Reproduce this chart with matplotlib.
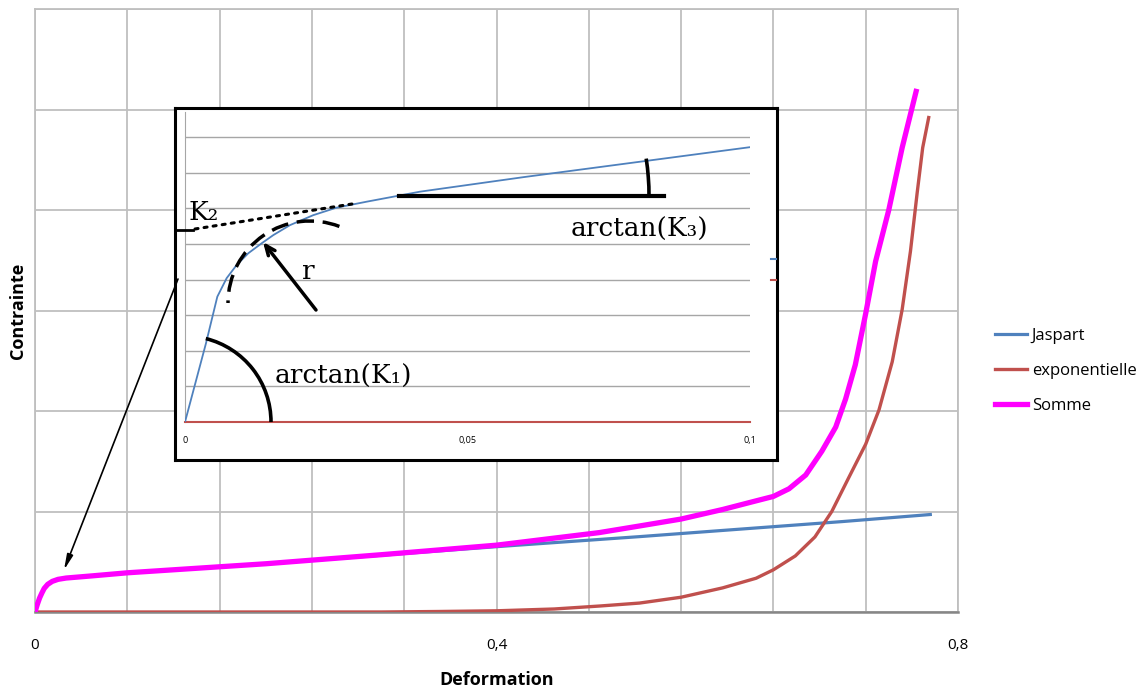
import numpy as np
import matplotlib
matplotlib.use("Agg")
import matplotlib.pyplot as plt
from matplotlib.patches import Arc

plt.rcParams["font.family"] = ["Open Sans", "DejaVu Sans"]

W, H = 1142, 691

# courbes principales (contrainte en unites de grille)
jaspart_x = [0, 0.002, 0.004, 0.006, 0.008, 0.011, 0.015, 0.02, 0.027, 0.05, 0.08, 0.2, 0.3, 0.4,
             0.524, 0.6, 0.7, 0.776]
jaspart_y = [0, 0.075, 0.14, 0.19, 0.235, 0.275, 0.305, 0.325, 0.338, 0.36, 0.39, 0.48, 0.565,
             0.65, 0.75, 0.815, 0.9, 0.97]

expo_x = [0, 0.3, 0.35, 0.4, 0.45, 0.49, 0.524, 0.56, 0.596, 0.625, 0.64, 0.659, 0.676, 0.6906,
          0.705, 0.72, 0.7315, 0.743, 0.7516, 0.7588, 0.7646, 0.7694, 0.7746]
expo_y = [0, 0, 0.005, 0.012, 0.03, 0.06, 0.089, 0.147, 0.24, 0.336, 0.42, 0.558, 0.747, 1.0,
          1.33, 1.67, 2.01, 2.49, 3.01, 3.59, 4.17, 4.62, 4.92]

somme_x = [0, 0.002, 0.004, 0.006, 0.008, 0.011, 0.015, 0.02, 0.027, 0.05, 0.08, 0.2, 0.3, 0.4,
           0.489, 0.524, 0.56, 0.596, 0.625, 0.64, 0.6535, 0.668, 0.682, 0.694, 0.7026, 0.711,
           0.72, 0.7286, 0.74, 0.7516, 0.7637]
somme_y = [0, 0.075, 0.14, 0.19, 0.235, 0.275, 0.305, 0.325, 0.338, 0.36, 0.39, 0.48, 0.57, 0.665,
           0.79, 0.856, 0.925, 1.02, 1.106, 1.15, 1.226, 1.363, 1.6, 1.84, 2.12, 2.46, 2.97, 3.49,
           4.0, 4.62, 5.18]

# encart : zoom sur 0..0,1
zoom_x = [0, 0.00372, 0.00572, 0.00737, 0.00914, 0.0112, 0.01357, 0.01563, 0.01858, 0.0227,
          0.0268, 0.0322, 0.0416, 0.06, 0.08, 0.1]
zoom_y = [0, 2.215, 3.52, 4.04, 4.41, 4.74, 5.02, 5.25, 5.53, 5.81, 6.02, 6.19, 6.47, 6.88, 7.3,
          7.72]
zoom_expo_x = [0, 0.1]
zoom_expo_y = [0, 0]

main_ticks = [0, 0.4, 0.8]
main_tick_labels = ["0", "0,4", "0,8"]
zoom_ticks = [0, 0.05, 0.1]
zoom_tick_labels = ["0", "0,05", "0,1"]

BLUE = "#4F81BD"
RED = "#C0504D"
MAGENTA = "#FF00FF"
GRID = "#BFBFBF"

fig = plt.figure(figsize=(W / 100, H / 100), dpi=100)

# --- graphique principal
ax = fig.add_axes([35 / W, 1 - 612 / H, 923 / W, 603 / H])
l1, = ax.plot(jaspart_x, jaspart_y, color=BLUE, lw=2.3, zorder=3)
l2, = ax.plot(expo_x, expo_y, color=RED, lw=2.4, zorder=3)
l3, = ax.plot(somme_x, somme_y, color=MAGENTA, lw=3.8, zorder=4)
ax.set_xlim(0, 0.8)
ax.set_ylim(0, 6)
grid_x = np.linspace(0, 0.8, 11)
ax.set_xticks(grid_x)
ax.set_xticklabels([main_tick_labels[main_ticks.index(round(v, 2))] if round(v, 2) in main_ticks else ""
                    for v in grid_x], fontsize=11)
ax.set_yticks(range(7))
ax.set_yticklabels([])
ax.tick_params(length=0)
ax.tick_params(axis="x", pad=19)
ax.grid(color=GRID, lw=1.3, zorder=0)
ax.set_axisbelow(True)
for s in ax.spines.values():
    s.set_color(GRID)
    s.set_linewidth(1.3)
ax.spines["bottom"].set_color("#868686")
ax.spines["bottom"].set_linewidth(1.8)
ax.set_xlabel("Deformation", fontweight="bold", fontsize=13, va="center")
ax.xaxis.set_label_coords(0.5, -68 / 603)
ax.set_ylabel("Contrainte", fontweight="bold", fontsize=13, va="center")
ax.yaxis.set_label_coords(-17 / 923, 0.5)

fig.legend([l1, l2, l3], ["Jaspart", "exponentielle", "Somme"], loc="upper left",
           bbox_to_anchor=(995 / W, 1 - 328 / H), frameon=False, borderpad=0,
           borderaxespad=0, handlelength=1.9, handletextpad=0.3, labelspacing=1.14,
           fontsize=12)

# --- cadre de l'encart
box = fig.add_axes([175 / W, 1 - 460 / H, 602 / W, 352 / H])
box.set_xticks([])
box.set_yticks([])
box.set_facecolor("white")
for s in box.spines.values():
    s.set_color("black")
    s.set_linewidth(2.2)

ins = fig.add_axes([185 / W, 1 - 422 / H, 565 / W, 8.7 * 35.6 / H])
ins.patch.set_alpha(0)
ins.plot(zoom_expo_x, zoom_expo_y, color=RED, lw=1.5, zorder=3, clip_on=False)
ins.plot(zoom_x, zoom_y, color=BLUE, lw=1.3, zorder=4)
ins.set_xlim(0, 0.1)
ins.set_ylim(0, 8.7)
ins.set_yticks(range(9))
ins.set_yticklabels([])
ins.yaxis.grid(color="#A6A6A6", lw=1)
ins.set_xticks(zoom_ticks)
ins.set_xticklabels(zoom_tick_labels, fontsize=6.5)
ins.tick_params(length=0)
ins.tick_params(axis="x", pad=10)
for k in ["top", "right", "bottom"]:
    ins.spines[k].set_visible(False)
ins.spines["left"].set_color("#A6A6A6")

# --- annotations (coordonnees en pixels de l'image)
ov = fig.add_axes([0, 0, 1, 1])
ov.set_xlim(0, W)
ov.set_ylim(0, H)
ov.axis("off")
ov.patch.set_alpha(0)


def px(x, y):
    return (x, H - y)


# angle K1
ov.add_patch(Arc(px(185, 422), 2 * 86, 2 * 86, theta1=0, theta2=76, color="black", lw=2.6))
# rayon r (cercle en tirets)
ov.add_patch(Arc(px(310, 303), 2 * 82, 2 * 82, theta1=69, theta2=180, color="black", lw=2.5,
                 linestyle=(0, (5, 2.5))))
# angle K3
ov.plot([399, 664], [H - 196, H - 196], color="black", lw=3)
ov.add_patch(Arc(px(399, 196), 2 * 250, 2 * 250, theta1=0, theta2=8.6, color="black", lw=2.6))
# tangente K2
ov.plot([195, 352], [H - 229, H - 204], color="black", lw=2.2, linestyle=(0, (1, 2)),
        dash_capstyle="round")
ov.plot([177, 193], [H - 230, H - 230], color="black", lw=2)
# fleche r
ov.annotate("", xy=px(263, 242), xytext=px(316, 310),
            arrowprops=dict(arrowstyle="->,head_length=0.7,head_width=0.3", lw=2.5,
                            color="black", shrinkA=0, shrinkB=0))
# fleche vers la courbe principale
ov.annotate("", xy=px(64, 570), xytext=px(178, 279),
            arrowprops=dict(arrowstyle="-|>,head_length=0.9,head_width=0.18", lw=1.2,
                            color="black", shrinkA=0, shrinkB=0))
# legende coupee de l'encart
ov.plot([771, 776], [H - 259, H - 259], color=BLUE, lw=1.5)
ov.plot([771, 776], [H - 280, H - 280], color=RED, lw=1.5)

serif = dict(family="DejaVu Serif", fontsize=19, va="baseline", ha="left", color="black")
ov.text(188, H - 220, "K\u2082", **serif)
ov.text(302, H - 279, "r", **serif)
ov.text(571, H - 237, "arctan(K\u2083)", **serif)
ov.text(275, H - 384, "arctan(K\u2081)", **serif)

fig.savefig("out.png", dpi=100)
